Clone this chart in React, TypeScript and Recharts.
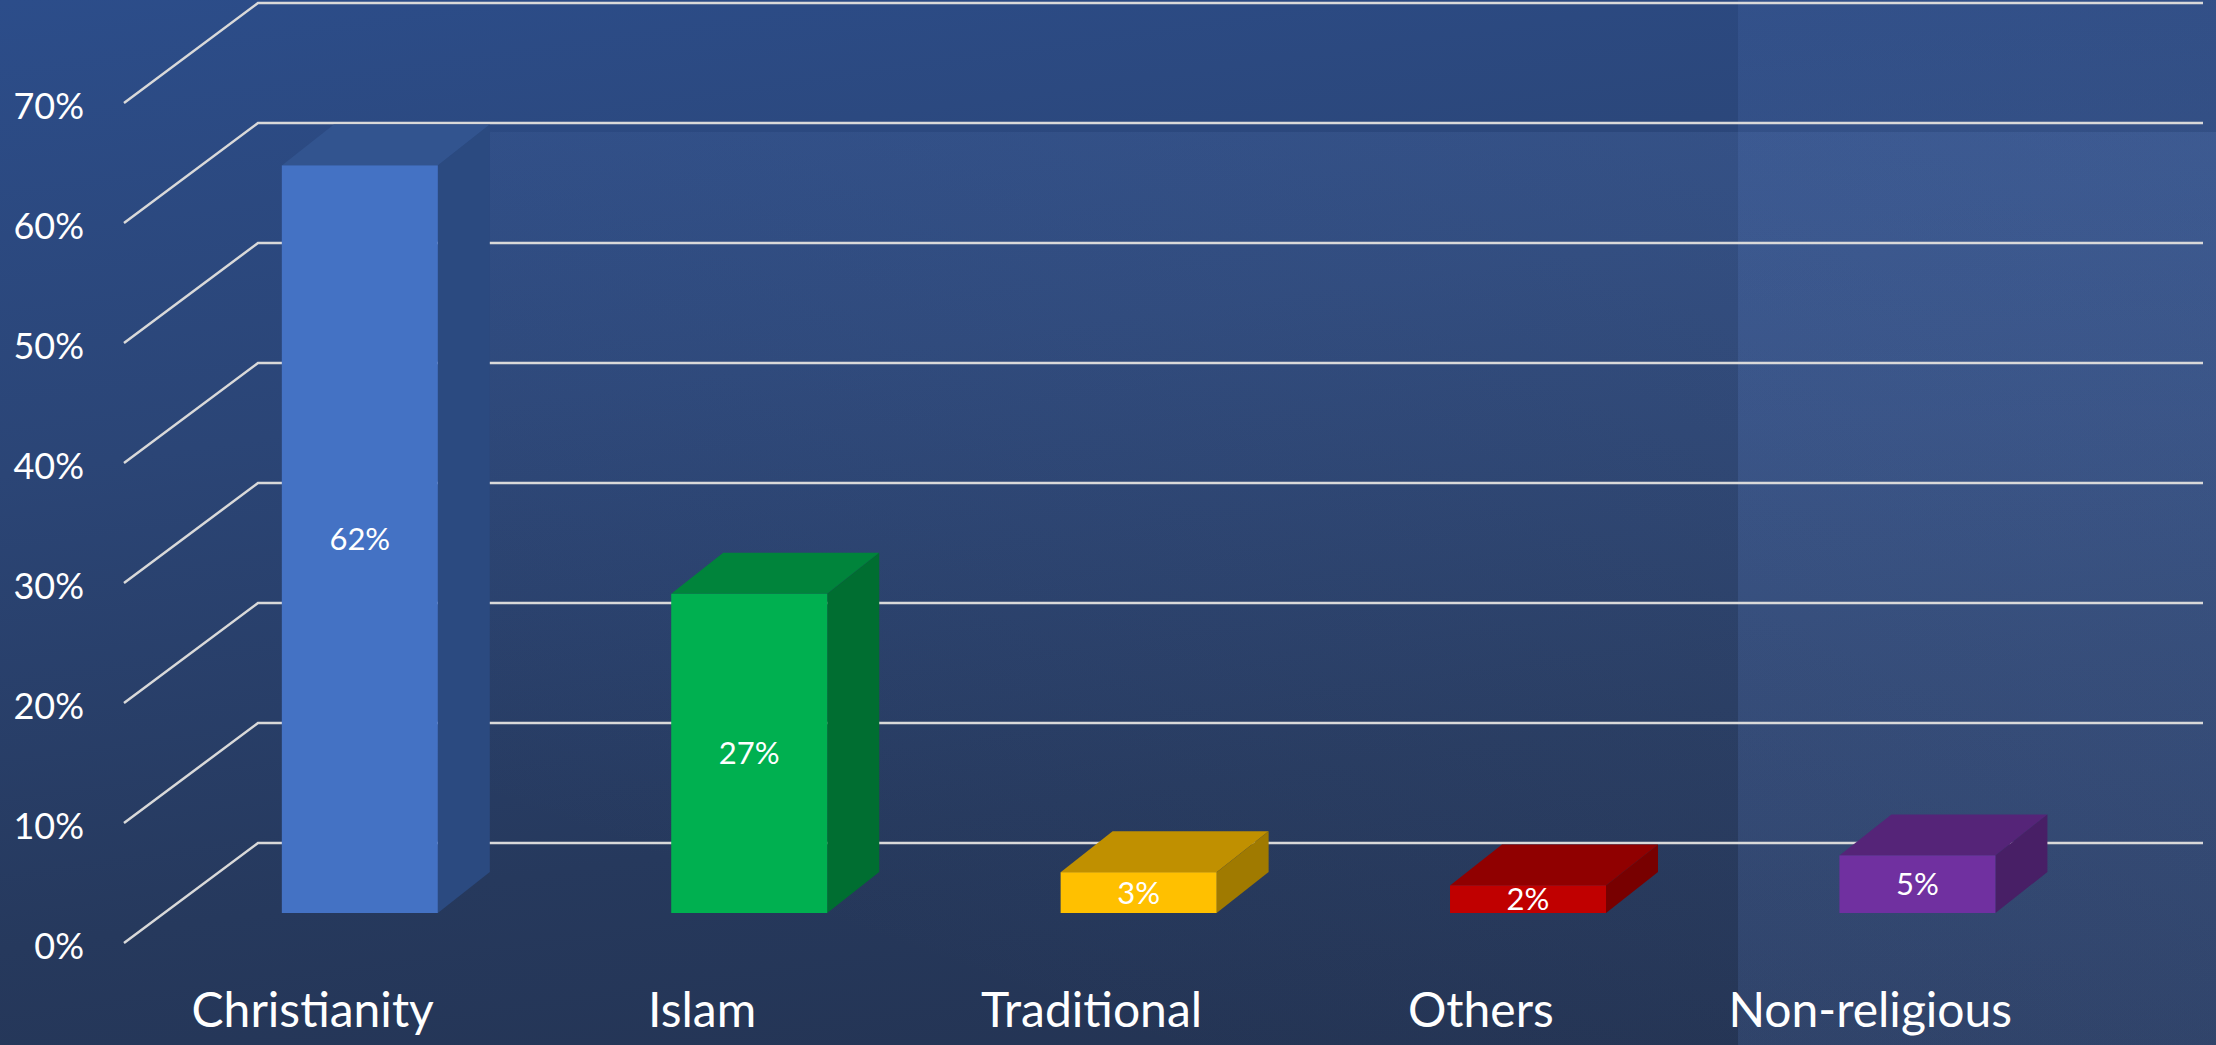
import { BarChart, Bar, XAxis, YAxis, CartesianGrid, Cell, LabelList } from 'recharts';

const religions = ['Christianity', 'Islam', 'Traditional', 'Others', 'Non-religious'];
const shares = [62.3, 26.6, 3.4, 2.3, 4.8];
const yTicks = [0, 10, 20, 30, 40, 50, 60, 70];

const data = religions.map((name, i) => ({ name, share: shares[i] }));

// front / top / side shades for each bar
const palette = [
    { front: '#4472C4', top: '#32548f', side: '#2b4a80' },
    { front: '#00B050', top: '#00843b', side: '#006e31' },
    { front: '#FFC000', top: '#c09000', side: '#a07a00' },
    { front: '#C00000', top: '#900000', side: '#780000' },
    { front: '#7030A0', top: '#552478', side: '#481f66' },
];

const DEPTH_X = 52;
const DEPTH_Y = -41;
const FONT = 'Lato, "Noto Sans", sans-serif';

const Box = (props: any) => {
    const { x, y, width, height, index } = props;
    const c = palette[index];
    const dx = DEPTH_X, dy = DEPTH_Y;
    return (
        <g>
            <polygon
                points={`${x},${y} ${x + dx},${y + dy} ${x + width + dx},${y + dy} ${x + width},${y}`}
                fill={c.top}
            />
            <polygon
                points={`${x + width},${y} ${x + width + dx},${y + dy} ${x + width + dx},${y + height + dy} ${x + width},${y + height}`}
                fill={c.side}
            />
            <rect x={x} y={y} width={width} height={height} fill={c.front} />
        </g>
    );
};

const GridLine = (props: any) => {
    const { x1, y1, index } = props;
    const fx = x1 - 41, fy = y1 + 30;
    const bx = x1 + 93, by = y1 - 70;
    return (
        <path
            key={`g-${index}`}
            d={`M${fx},${fy} L${bx},${by} L2203,${by}`}
            stroke="#d9d9d9"
            strokeWidth={2.5}
            fill="none"
        />
    );
};

const YTick = (props: any) => (
    <text x={84} y={props.y + 32} textAnchor="end" dominantBaseline="central"
        fill="#ffffff" fontSize={36} fontFamily={FONT}>
        {`${props.payload.value}%`}
    </text>
);

const XTick = (props: any) => (
    <text x={props.x - 47} y={1008} textAnchor="middle" dominantBaseline="central"
        fill="#ffffff" fontSize={48} fontFamily={FONT}>
        {props.payload.value}
    </text>
);

export default function App() {
    return (
        <div style={{
            position: 'absolute', left: 0, top: 0, width: 2216, height: 1045, overflow: 'hidden',
            background: 'linear-gradient(172deg, #2c4d8a 0%, #2b4576 35%, #26395d 70%, #233250 100%)',
        }}>
            <div style={{
                position: 'absolute', left: 490, top: 132, width: 1726, height: 913,
                background: 'linear-gradient(200deg, rgba(120,155,220,0.14) 0%, rgba(120,155,220,0.06) 50%, rgba(120,155,220,0) 85%)',
            }} />
            <div style={{
                position: 'absolute', left: 1738, top: 0, width: 478, height: 1045,
                background: 'linear-gradient(180deg, rgba(110,150,230,0.10) 0%, rgba(110,150,230,0.16) 40%, rgba(110,150,230,0.14) 100%)',
            }} />
            <div style={{ position: 'absolute', left: 0, top: 0 }}>
                <BarChart width={2216} height={1045} data={data}
                    margin={{ top: 73, right: 104, left: 0, bottom: 0 }}
                    barCategoryGap="30%">
                    <CartesianGrid vertical={false} horizontal={GridLine as any} />
                    <XAxis dataKey="name" height={132} axisLine={false} tickLine={false} tick={XTick as any} interval={0} />
                    <YAxis width={165} domain={[0, 70]} ticks={yTicks} axisLine={false} tickLine={false} tick={YTick as any} />
                    <Bar dataKey="share" shape={Box as any} isAnimationActive={false}>
                        {data.map((d, i) => <Cell key={d.name} fill={palette[i].front} />)}
                        <LabelList dataKey="share" position="center" fill="#ffffff" fontSize={31}
                            fontFamily={FONT} formatter={(v: any) => `${Math.round(v)}%`} />
                    </Bar>
                </BarChart>
            </div>
        </div>
    );
}
